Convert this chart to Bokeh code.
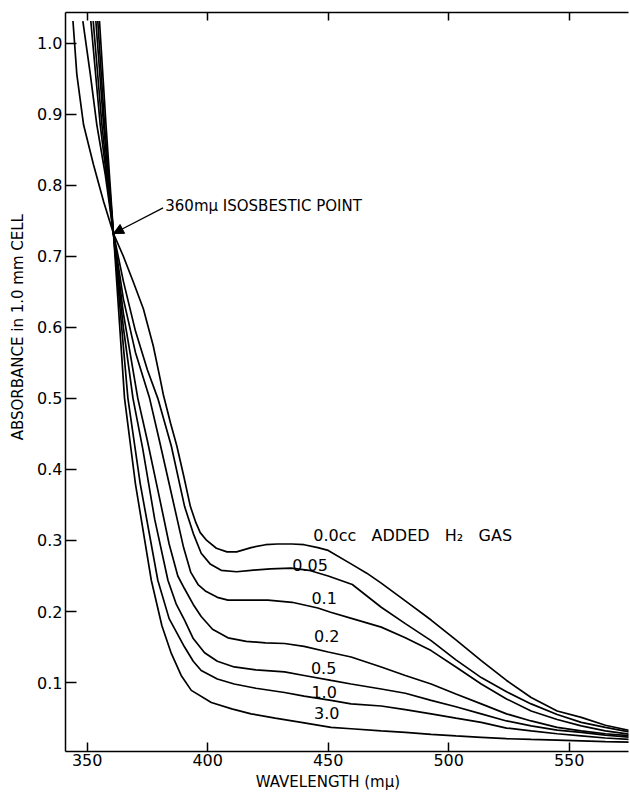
from bokeh.plotting import figure
from bokeh.models import (Range1d, FixedTicker, PrintfTickFormatter, LinearAxis,
                          Label, Arrow, NormalHead)
from bokeh.embed import file_html
from bokeh.resources import INLINE

# ---- data (wavelength in m-mu, absorbance) ----
wl_00 = [344.1, 345.7, 348.5, 352.6, 356.8, 360.9, 365.0, 369.1, 373.3, 377.4, 380.3, 381.6,
         384.6, 387.2, 390.1, 392.8, 395.1, 396.9, 399.6, 403.6, 408.0, 412.0, 418.0, 424.0,
         429.0, 435.0, 440.0, 445.7, 450.0, 460.0, 466.0, 472.0, 482.0, 492.7, 503.0, 513.5,
         524.0, 534.2, 545.0, 555.0, 565.0, 575.7]
ab_00 = [1.031, 0.956, 0.885, 0.829, 0.777, 0.732, 0.700, 0.664, 0.626, 0.574, 0.527, 0.505,
         0.465, 0.433, 0.390, 0.348, 0.325, 0.311, 0.300, 0.289, 0.284, 0.284, 0.290, 0.294,
         0.295, 0.295, 0.294, 0.290, 0.286, 0.266, 0.254, 0.240, 0.215, 0.188, 0.160, 0.131,
         0.103, 0.079, 0.060, 0.051, 0.040, 0.032]

wl_005 = [348.2, 351.3, 354.0, 357.5, 360.9, 365.0, 370.0, 375.0, 379.3, 384.9, 390.4, 394.0,
          397.3, 401.0, 405.6, 412.0, 418.0, 426.0, 434.6, 442.0, 450.0, 460.0, 472.0, 482.0,
          492.7, 503.0, 513.5, 524.0, 534.2, 545.0, 555.0, 565.0, 575.7]
ab_005 = [1.031, 0.956, 0.885, 0.815, 0.732, 0.665, 0.595, 0.540, 0.500, 0.433, 0.348, 0.310,
          0.282, 0.267, 0.258, 0.256, 0.258, 0.260, 0.261, 0.258, 0.250, 0.238, 0.206, 0.183,
          0.159, 0.132, 0.107, 0.087, 0.070, 0.055, 0.044, 0.037, 0.030]

wl_01 = [351.5, 355.4, 360.9, 365.0, 370.0, 375.9, 380.0, 385.0, 390.0, 393.0, 396.0, 399.0,
         404.0, 408.4, 416.0, 425.0, 435.0, 445.7, 451.0, 460.0, 472.0, 482.0, 492.7, 503.0,
         513.5, 524.0, 534.2, 545.0, 555.0, 565.0, 575.7]
ab_01 = [1.031, 0.885, 0.732, 0.640, 0.565, 0.500, 0.440, 0.365, 0.290, 0.255, 0.238, 0.229,
         0.220, 0.216, 0.216, 0.216, 0.213, 0.205, 0.199, 0.190, 0.178, 0.163, 0.145, 0.122,
         0.098, 0.077, 0.060, 0.048, 0.039, 0.032, 0.027]

wl_02 = [352.5, 356.1, 360.9, 365.0, 371.0, 375.0, 380.0, 384.0, 387.6, 390.4, 394.0, 397.3,
         402.0, 408.4, 416.0, 424.0, 431.9, 440.0, 450.0, 459.5, 472.0, 482.0, 492.7, 503.0,
         513.5, 524.0, 534.2, 545.0, 555.0, 565.0, 575.7]
ab_02 = [1.031, 0.885, 0.732, 0.620, 0.500, 0.440, 0.360, 0.295, 0.250, 0.232, 0.210, 0.193,
         0.175, 0.163, 0.158, 0.156, 0.155, 0.151, 0.143, 0.136, 0.122, 0.110, 0.098, 0.084,
         0.070, 0.056, 0.046, 0.037, 0.032, 0.028, 0.025]

wl_05 = [353.6, 356.8, 360.9, 365.0, 369.0, 373.0, 378.0, 383.5, 387.0, 390.4, 394.0, 398.7,
         404.0, 411.0, 420.0, 431.9, 440.0, 451.2, 459.5, 472.0, 482.0, 492.7, 503.0, 513.5,
         524.0, 534.2, 545.0, 555.0, 565.0, 575.7]
ab_05 = [1.031, 0.885, 0.732, 0.600, 0.500, 0.430, 0.330, 0.244, 0.210, 0.188, 0.162, 0.142,
         0.130, 0.122, 0.118, 0.115, 0.110, 0.103, 0.098, 0.091, 0.085, 0.075, 0.066, 0.056,
         0.046, 0.039, 0.033, 0.030, 0.026, 0.023]

wl_10 = [354.4, 357.2, 360.9, 366.9, 372.0, 379.3, 384.0, 390.4, 394.0, 397.3, 404.0, 411.0,
         420.0, 431.9, 440.0, 451.2, 459.5, 472.0, 482.0, 492.7, 503.0, 513.5, 524.0, 534.2,
         545.0, 555.0, 565.0, 575.7]
ab_10 = [1.031, 0.885, 0.732, 0.500, 0.380, 0.244, 0.190, 0.150, 0.130, 0.117, 0.105, 0.098,
         0.092, 0.086, 0.081, 0.075, 0.070, 0.067, 0.062, 0.056, 0.050, 0.044, 0.036, 0.032,
         0.028, 0.025, 0.022, 0.020]

wl_30 = [355.1, 357.8, 360.9, 365.5, 370.0, 376.6, 381.0, 384.9, 389.0, 393.2, 401.5, 410.0,
         418.0, 428.0, 438.8, 451.2, 459.5, 472.0, 482.0, 492.7, 503.0, 513.5, 524.0, 534.2,
         545.0, 555.0, 565.0, 575.7]
ab_30 = [1.031, 0.885, 0.732, 0.500, 0.380, 0.244, 0.180, 0.141, 0.110, 0.089, 0.072, 0.063,
         0.056, 0.050, 0.044, 0.037, 0.035, 0.032, 0.030, 0.027, 0.025, 0.023, 0.021, 0.020,
         0.019, 0.018, 0.017, 0.016]

NB = "\u00a0"
GAP = NB * 2 + " "
curve_labels = ["0.0cc" + GAP + "ADDED" + GAP + "H\u2082" + GAP + "GAS",
                "0.05", "0.1", "0.2", "0.5", "1.0", "3.0"]
label_x = [443.8, 442.5, 448.3, 449.4, 448.1, 448.3, 449.4]
label_y = [0.307, 0.265, 0.219, 0.166, 0.121, 0.087, 0.057]

x_ticks = [350, 400, 450, 500, 550]
y_ticks = [0.1, 0.2, 0.3, 0.4, 0.5, 0.6, 0.7, 0.8, 0.9, 1.0]

x_title = "WAVELENGTH (m\u03bc)"
y_title = "ABSORBANCE in 1.0 mm CELL"

FONT = "DejaVu Sans"

p = figure(width=630, height=794, x_range=Range1d(341, 574.6), y_range=Range1d(0.003, 1.043),
           output_backend="svg", toolbar_location=None,
           min_border_left=65, min_border_right=2, min_border_top=12, min_border_bottom=43)
p.outline_line_color = None
p.grid.visible = False
p.background_fill_color = "white"
p.border_fill_color = "white"

for ax in (p.xaxis[0], p.yaxis[0]):
    ax.major_tick_out = 0
    ax.minor_tick_in = 0
    ax.minor_tick_out = 0
    ax.axis_line_width = 1.5
    ax.major_tick_line_width = 1.5
    ax.axis_line_color = "black"
    ax.major_tick_line_color = "black"
    ax.major_label_text_font = FONT
    ax.major_label_text_font_size = "16px"
    ax.major_label_text_color = "black"
    ax.axis_label_text_font = FONT
    ax.axis_label_text_font_size = "15px"
    ax.axis_label_text_font_style = "normal"
    ax.axis_label_text_color = "black"

p.xaxis.ticker = FixedTicker(ticks=x_ticks)
p.xaxis.major_tick_in = 9
p.xaxis.major_label_standoff = 2
p.xaxis.axis_label = x_title + NB * 8
p.xaxis.axis_label_standoff = 4

p.yaxis.ticker = FixedTicker(ticks=y_ticks)
p.yaxis.formatter = PrintfTickFormatter(format="%.1f")
p.yaxis.major_tick_in = 11
p.yaxis.major_label_standoff = 3
p.yaxis.axis_label = NB * 23 + y_title
p.yaxis.axis_label_standoff = 7

top = LinearAxis(ticker=FixedTicker(ticks=x_ticks), major_tick_in=8, major_tick_out=0,
                 minor_tick_in=0, minor_tick_out=0,
                 major_label_overrides={t: "" for t in x_ticks},
                 major_label_standoff=0, axis_line_width=1.5, major_tick_line_width=1.5)
p.add_layout(top, "above")

for xs, ys in [(wl_00, ab_00), (wl_005, ab_005), (wl_01, ab_01), (wl_02, ab_02),
               (wl_05, ab_05), (wl_10, ab_10), (wl_30, ab_30)]:
    p.line(xs, ys, line_color="black", line_width=1.7)

for i, (t, lx, ly) in enumerate(zip(curve_labels, label_x, label_y)):
    p.add_layout(Label(x=lx, y=ly, text=t, text_font=FONT, text_font_size="16px",
                       text_align="left" if i == 0 else "center", text_baseline="middle",
                       text_color="black"))

p.add_layout(Label(x=382.4, y=0.771, text="360m\u03bc ISOSBESTIC POINT", text_font=FONT,
                   text_font_size="15px", text_align="left", text_baseline="middle",
                   text_color="black"))
p.add_layout(Arrow(end=NormalHead(size=10, fill_color="black", line_color="black"),
                   x_start=381.5, y_start=0.768, x_end=360.9, y_end=0.732,
                   line_color="black", line_width=1.3))

open("out.html", "w").write(file_html(p, INLINE))
